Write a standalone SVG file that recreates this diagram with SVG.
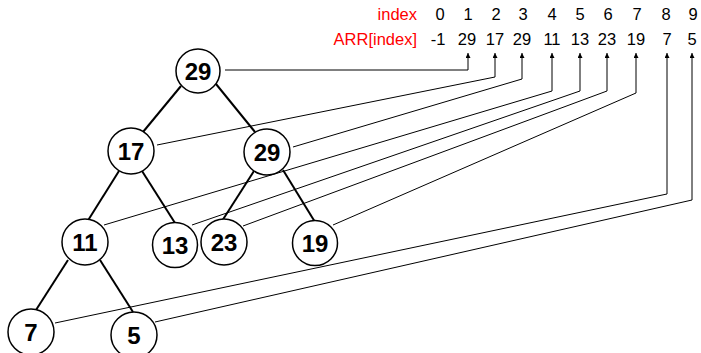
<svg xmlns="http://www.w3.org/2000/svg" width="701" height="353" viewBox="0 0 701 353">
<defs>
<style>
.hdr{font-family:"Liberation Sans",Arial,sans-serif;font-size:16.5px;fill:#000;text-anchor:middle}
.lbl{font-family:"Liberation Sans",Arial,sans-serif;font-size:16.5px;fill:#ff0000;text-anchor:end}
.nc{fill:#fff;stroke:#000;stroke-width:1.5}
.nt{font-family:"Liberation Sans",Arial,sans-serif;font-size:24px;font-weight:bold;fill:#000;text-anchor:middle}
.edge{stroke:#000;stroke-width:2;fill:none}
.conn{stroke:#000;stroke-width:1;fill:none;marker-end:url(#ah)}
</style>
<marker id="ah" viewBox="0 0 10 10" refX="10" refY="5" markerWidth="10" markerHeight="5" markerUnits="userSpaceOnUse" orient="auto">
<path d="M0,0 L10,5 L0,10 z" fill="#000"/>
</marker>
</defs>
<rect width="701" height="353" fill="#fff"/>
<g id="header">
<text class="lbl" x="417" y="20">index</text>
<text class="lbl" x="417" y="45">ARR[index]</text>
<text class="hdr" x="440" y="20">0</text>
<text class="hdr" x="468" y="20">1</text>
<text class="hdr" x="496" y="20">2</text>
<text class="hdr" x="523" y="20">3</text>
<text class="hdr" x="552" y="20">4</text>
<text class="hdr" x="580" y="20">5</text>
<text class="hdr" x="608" y="20">6</text>
<text class="hdr" x="637" y="20">7</text>
<text class="hdr" x="666" y="20">8</text>
<text class="hdr" x="693" y="20">9</text>
<text class="hdr" x="438" y="45">-1</text>
<text class="hdr" x="467" y="45">29</text>
<text class="hdr" x="495" y="45">17</text>
<text class="hdr" x="522" y="45">29</text>
<text class="hdr" x="552" y="45">11</text>
<text class="hdr" x="580" y="45">13</text>
<text class="hdr" x="607" y="45">23</text>
<text class="hdr" x="636" y="45">19</text>
<text class="hdr" x="667" y="45">7</text>
<text class="hdr" x="692" y="45">5</text>
</g>
<g id="tree-edges">
<line class="edge" x1="181" y1="86" x2="143" y2="132"/>
<line class="edge" x1="216" y1="84" x2="255" y2="132"/>
<line class="edge" x1="119" y1="171" x2="87" y2="222"/>
<line class="edge" x1="142" y1="171" x2="175" y2="223"/>
<line class="edge" x1="254" y1="171" x2="222" y2="221"/>
<line class="edge" x1="283" y1="170" x2="315" y2="222"/>
<line class="edge" x1="68" y1="260" x2="36" y2="310"/>
<line class="edge" x1="100" y1="260" x2="133" y2="312"/>
</g>
<g id="connectors">
<polyline class="conn" points="225,70 468,70 468,53"/>
<polyline class="conn" points="157,145 495,77 495,53"/>
<polyline class="conn" points="293,147 522,79 522,53"/>
<polyline class="conn" points="104,225 552,91 552,53"/>
<polyline class="conn" points="192,225 580,91 580,53"/>
<polyline class="conn" points="243,226 607,91 607,53"/>
<polyline class="conn" points="333,225 636,93 636,53"/>
<polyline class="conn" points="55,323 667,194 667,53"/>
<polyline class="conn" points="155,322 692,200 692,53"/>
</g>
<g id="n1"><circle class="nc" cx="198" cy="71" r="22"/><text class="nt" x="198" y="79.5">29</text></g>
<g id="n2"><circle class="nc" cx="131" cy="151" r="23"/><text class="nt" x="131" y="160">17</text></g>
<g id="n3"><circle class="nc" cx="267" cy="152" r="23"/><text class="nt" x="267" y="161">29</text></g>
<g id="n4"><circle class="nc" cx="85" cy="242" r="23"/><text class="nt" x="85" y="251">11</text></g>
<g id="n5"><circle class="nc" cx="175" cy="245" r="22.5"/><text class="nt" x="175" y="254">13</text></g>
<g id="n6"><circle class="nc" cx="224" cy="242" r="23"/><text class="nt" x="224" y="251">23</text></g>
<g id="n7"><circle class="nc" cx="315" cy="243" r="22.5"/><text class="nt" x="315" y="252">19</text></g>
<g id="n8"><circle class="nc" cx="31" cy="332" r="23"/><text class="nt" x="31" y="341">7</text></g>
<g id="n9"><circle class="nc" cx="134" cy="335" r="23"/><text class="nt" x="134" y="344">5</text></g>
</svg>
